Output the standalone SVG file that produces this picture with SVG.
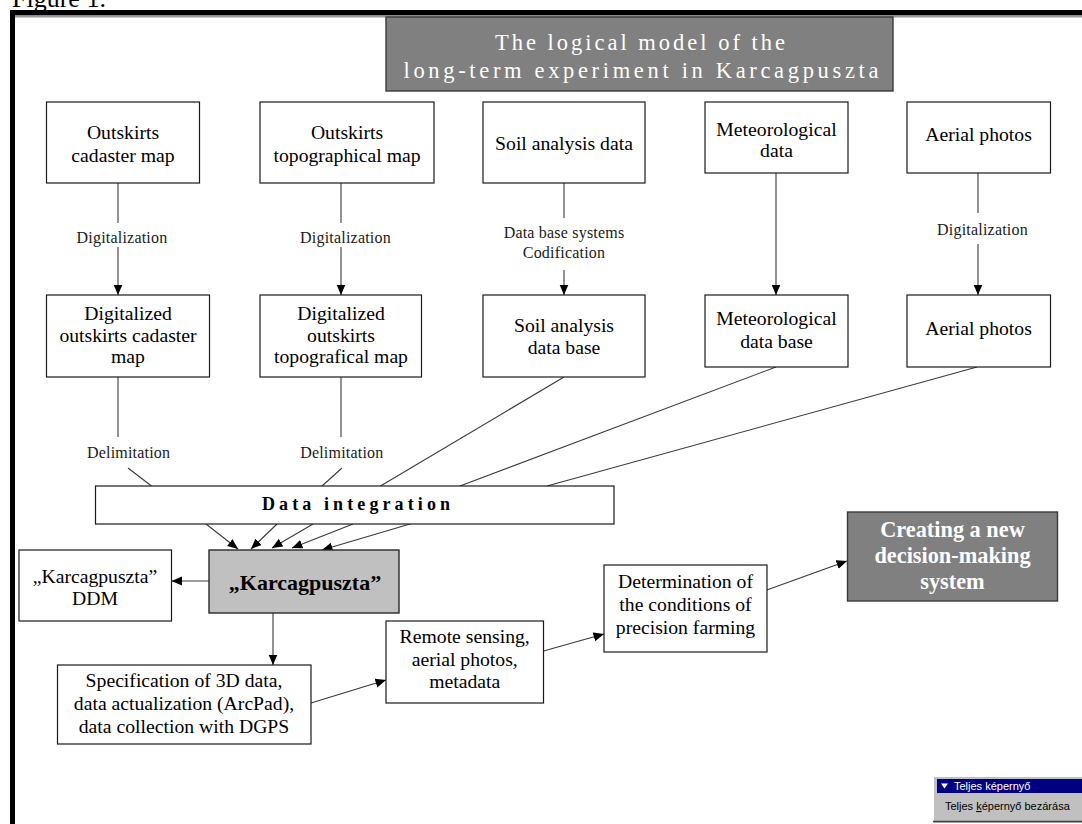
<svg xmlns="http://www.w3.org/2000/svg" width="1082" height="824" viewBox="0 0 1082 824">
  <style>
    .box { fill: #ffffff; stroke: #1a1a1a; stroke-width: 1.2; }
    .dark { fill: #808080; stroke: #3a3a3a; stroke-width: 1.4; }
    .light { fill: #c0c0c0; stroke: #2a2a2a; stroke-width: 1.4; }
    .t { font-family: "Liberation Serif", "Times New Roman", serif; font-size: 19.7px; text-anchor: middle; fill: #000; }
    .lbl { font-family: "Liberation Serif", "Times New Roman", serif; font-size: 16px; text-anchor: middle; fill: #1a1a1a; letter-spacing: 0.2px; }
    .b { font-weight: bold; }
    .w { fill: #ffffff; }
    .ttl { font-size: 22.5px; }
    .big { font-size: 22.3px; }
    .kp { font-size: 22px; }
    .di { font-size: 18px; }
    .conn { stroke: #3a3a3a; stroke-width: 1.1; fill: none; }
    .ui { font-family: "Liberation Sans", Arial, sans-serif; font-size: 11px; }
  </style>
  <defs>
    <marker id="arrow" markerUnits="userSpaceOnUse" markerWidth="11" markerHeight="10" refX="10.5" refY="4.5" orient="auto">
      <path d="M0,0 L10.5,4.5 L0,9 Z" fill="#000"/>
    </marker>
  </defs>

  <rect width="1082" height="824" fill="#ffffff"/>

  <!-- caption above the frame -->
  <text x="12" y="7" font-family="'Liberation Serif', 'Times New Roman', serif" font-size="26" fill="#000">Figure 1.</text>

  <!-- window frame -->
  <g id="frame">
    <rect x="10" y="10" width="1072" height="5.5" fill="#000"/>
    <rect x="15" y="15.5" width="1067" height="2" fill="#9a9a9a"/>
    <rect x="10" y="10" width="5" height="814" fill="#000"/>
  </g>

  <!-- title -->
  <g id="title">
    <rect class="dark" x="386" y="17" width="507" height="74"/>
    <text class="t ttl w" x="640" y="50" textLength="290" lengthAdjust="spacing">The logical model of the</text>
    <text class="t ttl w" x="641" y="78" textLength="475" lengthAdjust="spacing">long-term experiment in Karcagpuszta</text>
  </g>

  <!-- connectors -->
  <g id="connectors">
    <path class="conn" d="M118,183 V223"/>
    <path class="conn" d="M118,247 V295" marker-end="url(#arrow)"/>
    <path class="conn" d="M341,183 V223"/>
    <path class="conn" d="M341,247 V295" marker-end="url(#arrow)"/>
    <path class="conn" d="M564,183 V218"/>
    <path class="conn" d="M564,270 V295" marker-end="url(#arrow)"/>
    <path class="conn" d="M776,173 V295" marker-end="url(#arrow)"/>
    <path class="conn" d="M978,173 V213"/>
    <path class="conn" d="M978,244 V295" marker-end="url(#arrow)"/>

    <path class="conn" d="M118,377 V437"/>
    <path class="conn" d="M128,468 L151.5,486"/>
    <path class="conn" d="M341,377 V437"/>
    <path class="conn" d="M342,468 L322,486"/>
    <path class="conn" d="M564,377 L380.5,486"/>
    <path class="conn" d="M776,367 L460,486"/>
    <path class="conn" d="M977,367 L547,486"/>

    <path class="conn" d="M206,524 L238,549" marker-end="url(#arrow)"/>
    <path class="conn" d="M277,524 L251,549" marker-end="url(#arrow)"/>
    <path class="conn" d="M313,524 L272,548" marker-end="url(#arrow)"/>
    <path class="conn" d="M353,524 L292,548" marker-end="url(#arrow)"/>
    <path class="conn" d="M410,524 L322,550" marker-end="url(#arrow)"/>

    <path class="conn" d="M209,581 H171.5" marker-end="url(#arrow)"/>
    <path class="conn" d="M273,613 V665" marker-end="url(#arrow)"/>
    <path class="conn" d="M311,703 L386,680" marker-end="url(#arrow)"/>
    <path class="conn" d="M543.5,651 L604,634" marker-end="url(#arrow)"/>
    <path class="conn" d="M766.8,590 L847,561" marker-end="url(#arrow)"/>

    <text class="lbl" x="122" y="243">Digitalization</text>
    <text class="lbl" x="345.5" y="243">Digitalization</text>
    <text class="lbl" x="564" y="238">Data base systems</text>
    <text class="lbl" x="564" y="258">Codification</text>
    <text class="lbl" x="982.5" y="235">Digitalization</text>
    <text class="lbl" x="128.6" y="458">Delimitation</text>
    <text class="lbl" x="341.8" y="458">Delimitation</text>
  </g>

  <!-- source maps and data -->
  <g id="cadaster-map">
    <rect class="box" x="46.5" y="102" width="153" height="81"/>
    <text class="t" x="123" y="139">Outskirts</text>
    <text class="t" x="123" y="162">cadaster map</text>
  </g>
  <g id="topo-map">
    <rect class="box" x="260" y="102" width="174" height="81"/>
    <text class="t" x="347" y="139">Outskirts</text>
    <text class="t" x="347" y="162">topographical map</text>
  </g>
  <g id="soil-data">
    <rect class="box" x="483" y="102" width="162" height="81"/>
    <text class="t" x="564" y="150">Soil analysis data</text>
  </g>
  <g id="meteo-data">
    <rect class="box" x="705" y="102" width="143" height="71"/>
    <text class="t" x="776.5" y="136">Meteorological</text>
    <text class="t" x="776.5" y="157">data</text>
  </g>
  <g id="aerial-photos">
    <rect class="box" x="907" y="102" width="143.5" height="71"/>
    <text class="t" x="978.5" y="141">Aerial photos</text>
  </g>

  <!-- digitalized layers -->
  <g id="dig-cadaster">
    <rect class="box" x="46.5" y="295" width="163" height="82"/>
    <text class="t" x="128" y="320">Digitalized</text>
    <text class="t" x="128" y="342">outskirts cadaster</text>
    <text class="t" x="128" y="363">map</text>
  </g>
  <g id="dig-topo">
    <rect class="box" x="260" y="295" width="161.5" height="82"/>
    <text class="t" x="341" y="320">Digitalized</text>
    <text class="t" x="341" y="342">outskirts</text>
    <text class="t" x="341" y="363">topografical map</text>
  </g>
  <g id="soil-db">
    <rect class="box" x="483" y="295" width="162" height="82"/>
    <text class="t" x="564" y="332">Soil analysis</text>
    <text class="t" x="564" y="354">data base</text>
  </g>
  <g id="meteo-db">
    <rect class="box" x="705" y="295" width="143" height="72"/>
    <text class="t" x="776.5" y="325">Meteorological</text>
    <text class="t" x="776.5" y="348">data base</text>
  </g>
  <g id="aerial-db">
    <rect class="box" x="907" y="295" width="143.5" height="72"/>
    <text class="t" x="978.5" y="335">Aerial photos</text>
  </g>

  <!-- integration -->
  <g id="data-integration">
    <rect class="box" x="95.5" y="486" width="518.5" height="38"/>
    <text class="t b di" x="356" y="510" textLength="188" lengthAdjust="spacing">Data integration</text>
  </g>

  <g id="karcagpuszta">
    <rect class="light" x="209" y="550" width="190" height="63"/>
    <text class="t b kp" x="305" y="590">„Karcagpuszta”</text>
  </g>
  <g id="ddm">
    <rect class="box" x="19" y="550" width="152.5" height="71"/>
    <text class="t" x="95" y="583">„Karcagpuszta”</text>
    <text class="t" x="95" y="605">DDM</text>
  </g>
  <g id="specification">
    <rect class="box" x="57.5" y="665" width="253.5" height="79"/>
    <text class="t" x="184" y="687">Specification of 3D data,</text>
    <text class="t" x="184" y="710">data actualization (ArcPad),</text>
    <text class="t" x="184" y="733">data collection with DGPS</text>
  </g>
  <g id="remote-sensing">
    <rect class="box" x="386" y="621" width="157.5" height="82"/>
    <text class="t" x="464.7" y="643">Remote sensing,</text>
    <text class="t" x="464.7" y="666">aerial photos,</text>
    <text class="t" x="464.7" y="688">metadata</text>
  </g>
  <g id="precision-farming">
    <rect class="box" x="604" y="565" width="163" height="87"/>
    <text class="t" x="685.5" y="588">Determination of</text>
    <text class="t" x="685.5" y="611">the conditions of</text>
    <text class="t" x="685.5" y="634">precision farming</text>
  </g>
  <g id="decision-system">
    <rect class="dark" x="847.5" y="512" width="210" height="89"/>
    <text class="t b w big" x="952.5" y="537">Creating a new</text>
    <text class="t b w big" x="952.5" y="563">decision-making</text>
    <text class="t b w big" x="952.5" y="589">system</text>
  </g>

  <!-- full screen toolbar -->
  <g id="fullscreen-toolbar">
    <rect x="933" y="776" width="152" height="47" fill="#c0c0c0"/>
    <path d="M933.5,823 V776.5 H1082" stroke="#ffffff" stroke-width="1" fill="none"/>
    <path d="M933,821.5 H1082" stroke="#404040" stroke-width="1.5" fill="none"/>
    <rect x="937" y="779" width="148" height="14" fill="#000080"/>
    <polygon points="941,783.5 948,783.5 944.5,788.5" fill="#ffffff"/>
    <text class="ui" x="954" y="790" fill="#ffffff">Teljes képernyő</text>
    <text class="ui" x="945" y="810" fill="#000">Teljes <tspan text-decoration="underline">k</tspan>épernyő bezárása</text>
  </g>
</svg>
